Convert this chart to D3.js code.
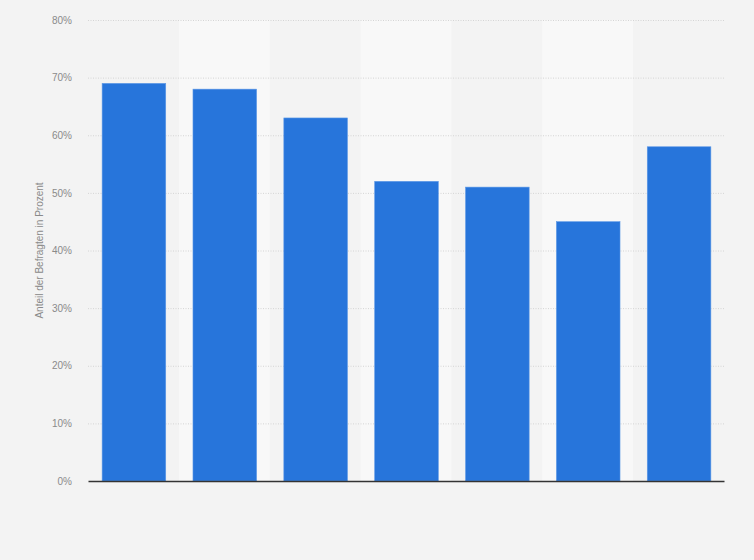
<!DOCTYPE html>
<html>
<head>
<meta charset="utf-8">
<script src="https://cdn.jsdelivr.net/npm/d3@7"></script>
<style>
  body { margin: 0; background: #f3f3f3; }
  svg { display: block; font-family: "Liberation Sans", Arial, sans-serif; }
</style>
</head>
<body>
<svg id="chart"></svg>
<script>
// categories have no visible labels in the source chart
const categories = ["k1", "k2", "k3", "k4", "k5", "k6", "k7"];
const values = [69, 68, 63, 52, 51, 45, 58];
const yTicks = [0, 10, 20, 30, 40, 50, 60, 70, 80];
const yTitle = "Anteil der Befragten in Prozent";

const W = 754, H = 560;
const margin = { top: 20, right: 30, bottom: 79, left: 88 };
const width = W - margin.left - margin.right;
const height = H - margin.top - margin.bottom;

const svg = d3.select("#chart").attr("width", W).attr("height", H);
svg.append("rect").attr("width", W).attr("height", H).attr("fill", "#f3f3f3");

const g = svg.append("g").attr("transform", `translate(${margin.left},${margin.top})`);

const x = d3.scaleBand().domain(categories).range([0, width]).paddingInner(0.3).paddingOuter(0.15);
const y = d3.scaleLinear().domain([0, 80]).range([height, 0]);

// alternating column bands
const step = x.step();
g.selectAll(".band")
  .data(categories.filter((d, i) => i % 2 === 1))
  .enter()
  .append("rect")
  .attr("class", "band")
  .attr("x", (d) => x(d) - step * x.paddingInner() / 2)
  .attr("y", 0)
  .attr("width", step)
  .attr("height", height)
  .attr("fill", "#f8f8f8");

// grid
g.append("g")
  .selectAll("line")
  .data(yTicks.filter((t) => t > 0))
  .enter()
  .append("line")
  .attr("x1", 0)
  .attr("x2", width)
  .attr("y1", (d) => y(d) + 0.5)
  .attr("y2", (d) => y(d) + 0.5)
  .attr("stroke", "#d4d4d4")
  .attr("stroke-dasharray", "1,1.5");

// y axis labels
const yAxis = g.append("g")
  .call(d3.axisLeft(y).tickValues(yTicks).tickFormat((d) => d + "%").tickSize(0).tickPadding(16));
yAxis.select(".domain").remove();
yAxis.selectAll("text").attr("fill", "#8a8a8a").attr("font-size", 10);

// bars
g.selectAll(".bar")
  .data(values)
  .enter()
  .append("rect")
  .attr("class", "bar")
  .attr("x", (d, i) => x(categories[i]) + 0.5)
  .attr("y", (d) => y(d))
  .attr("width", x.bandwidth())
  .attr("height", (d) => height - y(d))
  .attr("fill", "#2775db")
  .attr("stroke", "#5d98e6")
  .attr("stroke-width", 0.6);

// baseline
const xAxis = g.append("g")
  .attr("transform", `translate(0,${height})`)
  .call(d3.axisBottom(x).tickFormat("").tickSize(0));
xAxis.select(".domain").attr("stroke", "#333").attr("stroke-width", 1.5);

// y title
svg.append("text")
  .attr("transform", `translate(43,${margin.top + height / 2}) rotate(-90)`)
  .attr("text-anchor", "middle")
  .attr("font-size", 10)
  .attr("fill", "#8a8a8a")
  .text(yTitle);
</script>
</body>
</html>
